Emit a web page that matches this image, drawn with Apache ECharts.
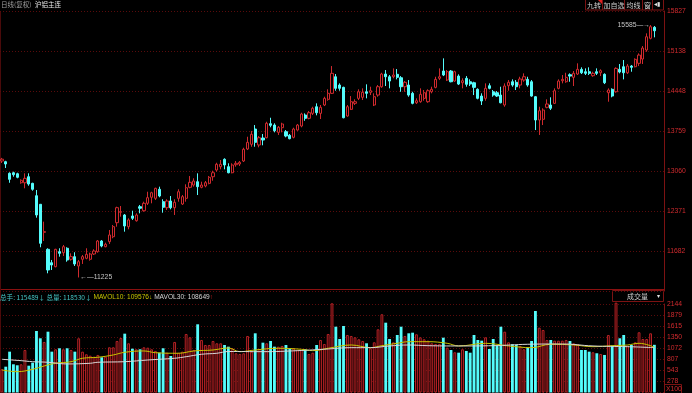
<!DOCTYPE html>
<html><head><meta charset="utf-8">
<script src="https://cdn.jsdelivr.net/npm/echarts@6/dist/echarts.min.js"></script>
<style>html,body{margin:0;padding:0;background:#000;overflow:hidden}#c{width:692px;height:393px}</style>
</head><body><div id="c"></div>
<script>
// ---- data ----
const opens = [13237,13225,13024,13034,13017,12861,12861,12965,12851,12637,
12489,12005,11711,11480,11411,11670,11653,11729,11539,11584,
11423,11539,11556,11539,11630,11670,11855,11756,11843,11929,
12171,12351,12304,12102,12287,12205,12447,12378,12506,12610,
12592,12748,12534,12430,12546,12430,12592,12494,12592,12782,
12822,12879,12782,12805,12851,12965,13081,13138,13266,13138,
13034,13173,13185,13237,13444,13525,13789,13513,13634,13639,
13881,13858,13732,13812,13743,13680,13646,13772,13841,14031,
13974,14060,14174,14060,14204,14302,14406,14692,14549,14509,
14014,14129,14233,14319,14337,14433,14423,14204,14376,14520,
14739,14692,14692,14734,14675,14520,14549,14406,14243,14261,
14319,14261,14433,14509,14665,14791,14635,14791,14618,14704,
14589,14665,14606,14589,14475,14359,14319,14537,14433,14416,
14376,14204,14537,14606,14596,14549,14635,14647,14606,14347,
13945,13957,14164,14204,14233,14492,14623,14606,14727,14682,
14739,14820,14779,14779,14710,14779,14761,14734,14416,14475,
14433,14820,14865,14761,14877,14865,14924,14998,15154,15356,
15546];
const closes = [13268,13185,12920,13000,12955,12903,12937,12839,12748,12304,
11815,12016,11354,11440,11711,11642,11756,11527,11584,11458,
11497,11584,11625,11630,11682,11855,11768,11798,11959,12102,
12430,12362,12114,12218,12247,12304,12420,12506,12603,12689,
12765,12632,12437,12546,12430,12523,12706,12620,12775,12869,
12891,12793,12822,12862,12955,13034,13180,13180,13168,13034,
13168,13197,13214,13439,13559,13698,13559,13639,13599,13888,
13853,13760,13819,13876,13668,13622,13789,13858,14048,13974,
14071,14147,14071,14164,14319,14406,14751,14492,14492,13984,
14174,14261,14261,14433,14423,14406,14451,14347,14520,14739,
14692,14618,14722,14682,14520,14596,14376,14233,14278,14388,
14416,14451,14475,14647,14692,14722,14779,14606,14779,14566,
14623,14561,14566,14509,14319,14273,14492,14492,14376,14359,
14243,14532,14596,14549,14520,14653,14692,14549,14359,13945,
14105,14117,14221,14147,14451,14618,14647,14682,14704,14751,
14820,14761,14751,14751,14751,14751,14796,14589,14463,14359,
14837,14774,14761,14877,14855,14993,15067,15188,15383,15556,
15487];
const lows = [13202,13116,12861,12965,12938,12844,12765,12810,12724,12258,
11746,11855,11297,11354,11400,11584,11596,11497,11515,11423,
11225,11458,11539,11515,11613,11653,11746,11746,11803,11902,
12102,12275,12016,12057,12218,12189,12333,12361,12477,12506,
12563,12610,12344,12390,12402,12304,12534,12477,12534,12765,
12793,12649,12765,12782,12834,12896,13052,13093,13093,13024,
13024,13138,13150,13219,13426,13483,13483,13473,13508,13628,
13819,13732,13686,13732,13646,13611,13628,13760,13819,13932,
13957,14031,14026,13962,14186,14278,14394,14451,14451,13974,
14002,14117,14204,14290,14290,14319,14376,14186,14347,14502,
14532,14492,14665,14647,14433,14433,14347,14216,14221,14243,
14278,14243,14406,14492,14635,14704,14618,14596,14606,14549,
14492,14520,14532,14376,14302,14204,14278,14475,14347,14342,
14233,14174,14451,14520,14463,14492,14606,14520,14347,13772,
13686,13858,14147,14117,14221,14475,14578,14589,14606,14532,
14722,14739,14722,14722,14692,14722,14704,14566,14261,14337,
14416,14751,14647,14739,14779,14855,14877,14912,15124,15338,
15373];
const highs = [13290,13240,13041,13052,13034,12920,13024,13024,12861,12736,
12494,12189,11729,11527,11720,11729,11786,11746,11642,11660,
11527,11613,11729,11653,11711,11872,11872,11826,12045,12131,
12447,12459,12321,12247,12378,12333,12477,12534,12706,12706,
12775,12793,12575,12575,12632,12575,12748,12649,12834,12977,
12938,13024,12879,12891,12977,13069,13207,13254,13283,13197,
13197,13237,13237,13466,13656,13755,13858,13668,13703,13915,
13984,13888,13841,13898,13772,13703,13812,13876,14071,14060,
14100,14174,14233,14204,14347,14475,14877,14739,14578,14520,
14204,14359,14302,14475,14492,14561,14520,14406,14549,14761,
14808,14722,14837,14825,14704,14618,14635,14433,14319,14492,
14463,14475,14520,14692,14837,15010,14808,14808,14796,14734,
14665,14704,14647,14606,14492,14406,14578,14578,14463,14445,
14520,14578,14635,14647,14635,14692,14751,14692,14635,14359,
14174,14147,14302,14337,14492,14647,14722,14761,14751,14791,
14924,14855,14837,14855,14779,14837,14820,14751,14492,14492,
14855,14912,14981,14912,14894,15010,15096,15223,15442,15585,
15568];
const volumes = [56200,62500,98900,68300,65900,68300,103000,64900,72200,149000,
131300,122400,147300,98900,104700,107100,104700,107100,103000,98900,
131300,98900,92600,89200,86700,90900,85300,86700,109500,109500,
124800,132100,142500,119200,106100,104700,104700,109500,108600,104700,
100600,96400,107100,96400,88400,122400,96400,98900,141700,133700,
103000,165200,127200,115100,115100,124800,119200,119200,115100,111000,
107100,95000,93300,95000,136900,98900,143400,105400,120700,119200,
124800,111000,111000,112700,115100,107100,107100,103000,103000,104700,
93300,96400,115100,127200,117500,141700,216100,159400,129600,161100,
139300,136900,133700,128900,124800,119200,107100,121600,153100,189500,
169100,129600,121600,139300,159400,136900,143400,144900,141000,133700,
128900,125500,119200,117500,117500,132800,108600,103000,97400,96400,
104700,100600,96400,139300,127200,125500,133700,105400,129600,112700,
159400,147300,121600,116800,115100,112700,104700,108600,124800,197500,
157000,151400,127200,127200,125500,125500,125500,127200,124800,119200,
116800,103000,103000,98900,97400,95000,93300,90900,139300,113400,
217600,131300,139300,113400,115100,121600,145900,129600,129600,143400,
115489];
// moving averages at these candle indices (0-based)
const ma10Idx = [0,4,8,11,14,18,21,25,29,32,37,40,46,50,55,59,62,66,72,78,81,85,91,96,99,103,106,111,116,119,126,132,138,143,149,154,159,163,166,170];
const ma10Val = [54500,50400,56200,64200,70800,74600,82900,85300,90900,97400,100600,96400,95000,100600,103000,107800,98900,103000,107100,104700,101300,107100,115100,108600,113400,119200,123100,123100,119200,112700,119200,112700,108600,116800,115100,111000,113400,115100,119200,109576];
const ma30Idx = [0,5,8,12,17,23,25,32,38,45,48,52,56,59,68,77,85,91,96,101,106,111,119,128,137,146,154,163,170];
const ma30Val = [80400,77100,74600,73200,69100,70800,73200,74600,78700,82900,86700,92600,95000,99300,98900,101300,105400,108600,108600,112700,115100,113400,112700,113400,116800,117500,112700,111000,108649];
const priceTicks = ['11682','12371','13060','13759','14448','15138','15827'];
const volTicks = ['278','543','807','1072','1350','1615','1879','2144'];
const legendVals = {total: '115489', amount: '118530', mavol10: '109576', mavol30: '108649'};

// ---- chart ----
const RED = '#d02a2e', CYAN = '#54fcfc', GRIDC = '#5a0b0b', AXC = '#7c1212';
const FONT = '"Liberation Sans", Arial, sans-serif';
const CJK = '"Noto Sans CJK SC", sans-serif';
const categories = opens.map((_, i) => String(i + 1)).concat(['', '']);
const PMIN = 10991, PINT = 691, VMIN = 1143, VINT = 26657;

const chart = echarts.init(document.getElementById('c'));
const catAxis = (g) => ({type: 'category', gridIndex: g, data: categories, boundaryGap: true,
  axisLine: {show: false}, axisTick: {show: false}, axisLabel: {show: false}, splitLine: {show: false}});
chart.setOption({
  backgroundColor: '#000',
  animation: false,
  textStyle: {fontFamily: FONT},
  grid: [
    {left: 0, right: 28, top: 11, height: 280},
    {left: 0, right: 28, top: 304, height: 88}
  ],
  xAxis: [catAxis(0), catAxis(1)],
  yAxis: [
    {type: 'value', gridIndex: 0, position: 'right', min: PMIN, max: PMIN + 7 * PINT, interval: PINT, scale: true,
      axisLine: {show: true, lineStyle: {color: AXC}}, axisTick: {show: false},
      axisLabel: {color: RED, fontSize: 6.8, margin: 3, fontFamily: FONT,
        formatter: v => priceTicks[Math.round((v - PMIN) / PINT) - 1] || ''},
      splitLine: {show: true, lineStyle: {color: GRIDC, type: [1, 2], width: 1}}},
    {type: 'value', gridIndex: 1, position: 'right', min: VMIN, max: VMIN + 8 * VINT, interval: VINT, scale: true,
      axisLine: {show: true, lineStyle: {color: AXC}}, axisTick: {show: false},
      axisLabel: {color: RED, fontSize: 6.8, margin: 3, fontFamily: FONT,
        formatter: v => volTicks[Math.round((v - VMIN) / VINT) - 1] || ''},
      splitLine: {show: true, lineStyle: {color: GRIDC, type: [1, 2], width: 1}}}
  ],
  series: [
    {type: 'candlestick', xAxisIndex: 0, yAxisIndex: 0, barWidth: '70%',
      data: opens.map((o, i) => [o, closes[i], lows[i], highs[i]]),
      itemStyle: {color: '#000', color0: CYAN, borderColor: RED, borderColor0: CYAN, borderWidth: 1},
      markPoint: {
        symbol: 'circle', symbolSize: 1, itemStyle: {color: 'rgba(0,0,0,0)'},
        label: {color: '#c4c4c4', fontSize: 6.8, fontFamily: FONT},
        data: [
          {type: 'max', valueDim: 'highest', label: {position: 'left', distance: 0, formatter: p => p.value + '\u2014\u2192'}},
          {type: 'min', valueDim: 'lowest', label: {position: 'right', distance: 1, formatter: p => '\u2190\u2014' + p.value}}
        ]
      }},
    {type: 'bar', xAxisIndex: 1, yAxisIndex: 1, barWidth: '74%', clip: false,
      data: volumes.map((v, i) => ({value: v,
        itemStyle: closes[i] >= opens[i] ? {color: '#1a0000', borderColor: '#b82226', borderWidth: 1} : {color: CYAN}}))},
    {type: 'line', xAxisIndex: 1, yAxisIndex: 1, smooth: 0.4, showSymbol: false,
      data: ma10Idx.map((x, i) => [x, ma10Val[i]]), lineStyle: {color: '#c8c400', width: 1}},
    {type: 'line', xAxisIndex: 1, yAxisIndex: 1, smooth: 0.4, showSymbol: false,
      data: ma30Idx.map((x, i) => [x, ma30Val[i]]), lineStyle: {color: '#d8d8d8', width: 1}}
  ],
  graphic: [
    {type: 'text', x: 1, y: 1.5, style: {text: '日线(复权)', fill: '#a0a0a0', font: '6.5px ' + CJK}},
    {type: 'text', x: 35, y: 1.5, style: {text: '沪铝主连', fill: '#e6e6e6', font: '6.5px ' + CJK}},
    // toolbar
    {type: 'rect', shape: {x: 585.5, y: -1, width: 17, height: 11}, style: {fill: '#000', stroke: AXC}},
    {type: 'rect', shape: {x: 602.5, y: -1, width: 22, height: 11}, style: {fill: '#000', stroke: AXC}},
    {type: 'rect', shape: {x: 624.5, y: -1, width: 18, height: 11}, style: {fill: '#000', stroke: AXC}},
    {type: 'rect', shape: {x: 642.5, y: -1, width: 10, height: 11}, style: {fill: '#000', stroke: AXC}},
    {type: 'rect', shape: {x: 652.5, y: -1, width: 11, height: 11}, style: {fill: '#000', stroke: AXC}},
    {type: 'polygon', shape: {points: [[598, 0], [602, 0], [602, 4]]}, style: {fill: '#e02020'}},
    {type: 'text', x: 587, y: 1.5, style: {text: '九转', fill: '#cfcfcf', font: '7px ' + CJK}},
    {type: 'text', x: 603.5, y: 1.5, style: {text: '加自选', fill: '#cfcfcf', font: '7px ' + CJK}},
    {type: 'text', x: 626.5, y: 1.5, style: {text: '均线', fill: '#cfcfcf', font: '7px ' + CJK}},
    {type: 'text', x: 644, y: 1.5, style: {text: '窗', fill: '#cfcfcf', font: '7px ' + CJK}},
    {type: 'text', x: 654, y: 1.5, style: {text: '◂▮', fill: '#e0e0e0', font: '6px sans-serif'}},
    // panel separator and left border
    {type: 'line', shape: {x1: 0, y1: 289.5, x2: 664, y2: 289.5}, style: {stroke: '#8a1010', lineWidth: 1}},
    {type: 'line', shape: {x1: 0.5, y1: 11, x2: 0.5, y2: 393}, style: {stroke: '#4a0a0a', lineWidth: 1}},
    // volume legend
    {type: 'text', x: 0, y: 294, style: {
      text: '{c|总手: ' + legendVals.total + '↓ 总量: ' + legendVals.amount + '↓} {y|MAVOL10: ' + legendVals.mavol10 + '↓} {w|MAVOL30: ' + legendVals.mavol30 + '}{r|↑}',
      font: '6.6px ' + FONT,
      rich: {c: {fill: '#46c8c8', font: '6.6px ' + CJK}, y: {fill: '#c8c400', font: '6.6px ' + FONT}, w: {fill: '#d4d4d4', font: '6.6px ' + FONT}, r: {fill: '#e02020', font: '6.6px ' + FONT}}}},
    // 成交量 box
    {type: 'rect', shape: {x: 612.5, y: 290.5, width: 51, height: 11}, style: {fill: '#000', stroke: AXC}},
    {type: 'text', x: 627, y: 292.5, style: {text: '成交量', fill: '#cfcfcf', font: '7px ' + CJK}},
    {type: 'text', x: 657, y: 293, style: {text: '▾', fill: '#e0e0e0', font: '6px sans-serif'}},
    // X100 unit box
    {type: 'rect', shape: {x: 664.5, y: 384.5, width: 17, height: 9}, style: {fill: '#000', stroke: AXC}},
    {type: 'text', x: 666, y: 385.5, style: {text: 'X100', fill: RED, font: '6.8px ' + FONT}}
  ]
});
</script></body></html>
